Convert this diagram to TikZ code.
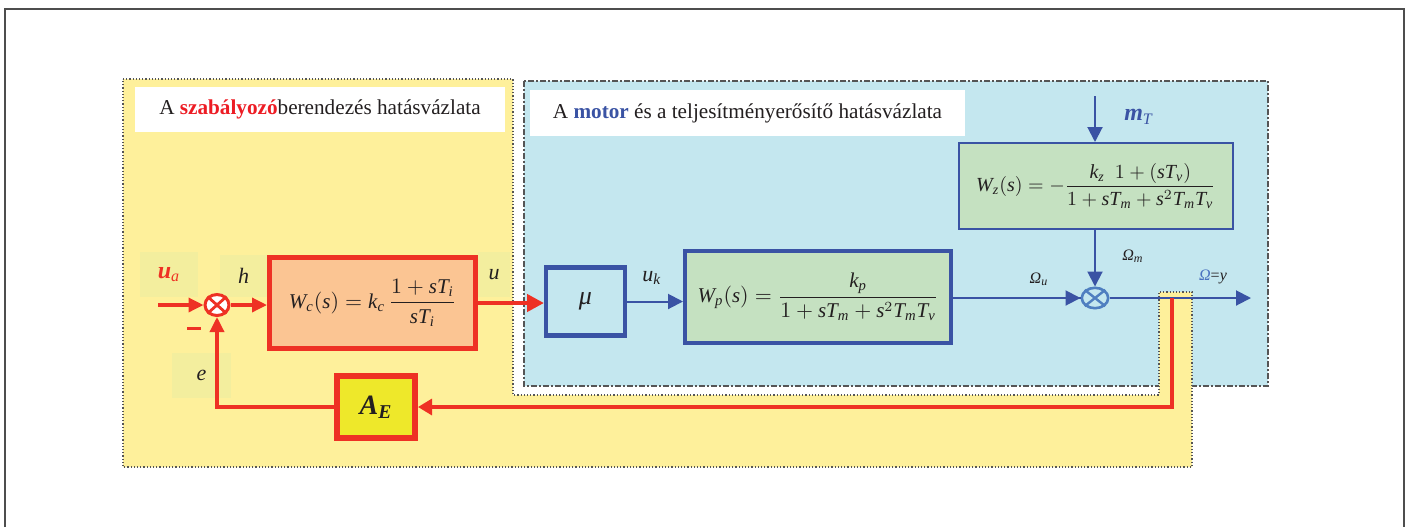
\documentclass[tikz,border=0pt]{standalone}
\usepackage{fontspec}
\setmainfont{Liberation Serif}
\usepackage{amsmath}
\usetikzlibrary{arrows.meta,shapes.geometric}
\definecolor{ylbg}{HTML}{FEF09B}
\definecolor{lblbg}{HTML}{F3EE9E}
\definecolor{blbg}{HTML}{C4E7EF}
\definecolor{myblue}{HTML}{3A53A4}
\definecolor{sumblue}{HTML}{4F7FC0}
\definecolor{omblue}{HTML}{4A72C0}
\definecolor{myred}{HTML}{EE3124}
\definecolor{titlered}{HTML}{ED1C24}
\definecolor{peach}{HTML}{FBC593}
\definecolor{mgreen}{HTML}{C5E1C1}
\definecolor{aeyellow}{HTML}{EEE82A}
\definecolor{txt}{HTML}{231F20}
\definecolor{framecol}{HTML}{4D4D4D}
\definecolor{bordercol}{HTML}{555555}
\newcommand\mi[1]{\text{\itshape #1}}
\tikzset{
  lblbox/.style={fill=lblbg, inner sep=0pt},
  titlebox/.style={fill=white, inner sep=0pt, font=\fontsize{10.6}{12}\selectfont},
  rl/.style={draw=myred, line width=1.7pt, -{Triangle[length=7.5pt,width=7pt]}},
  bl/.style={draw=myblue, line width=1pt, -{Triangle[length=7.5pt,width=7.5pt]}},
  fbox/.style={inner sep=0pt, font=\fontsize{10.5}{12}\selectfont},
}
\begin{document}
\begin{tikzpicture}[x=0.5pt,y=-0.5pt,font=\fontsize{10}{12}\selectfont,text=txt]
\useasboundingbox (0,0) rectangle (1409,527);
% frame
\draw[framecol, line width=1pt] (5,527) -- (5,9) -- (1404,9) -- (1404,527);
% regions
\fill[blbg] (524,81) rectangle (1268,386);
\draw[bordercol, line width=0.6pt, dash pattern=on 3pt off 1.2pt on 0.6pt off 1.2pt] (524,81) rectangle (1268,386);
\draw[bordercol, line width=0.6pt, densely dotted, fill=ylbg] (123,79) -- (513,79) -- (513,395) -- (1159,395) -- (1159,292) -- (1192,292) -- (1192,467) -- (123,467) -- cycle;
% titles
\node[titlebox, minimum width=185pt, minimum height=22.5pt] (t1) at (320,109.5)
  {A \textcolor{titlered}{\textbf{szabályozó}}berendezés hatásvázlata};
\node[titlebox, minimum width=217.5pt, minimum height=23pt] (t2) at (747.5,113)
  {A \textcolor{myblue}{\textbf{motor}} és a teljesítményerősítő hatásvázlata};
% label boxes
\node[lblbox, minimum width=29pt, minimum height=22.5pt, font=\fontsize{12}{14}\selectfont] (ua) at (169,274.5)
  {\textcolor{myred}{\textbf{\textit{u}}\textsubscript{\textit{a}}}};
\node[lblbox, minimum width=23.5pt, minimum height=21pt, font=\fontsize{11}{13}\selectfont] (hl) at (243.5,276) {\textit{h}};
\node[lblbox, minimum width=16pt, minimum height=22.5pt, font=\fontsize{11}{13}\selectfont] (ul) at (494,274.5) {\textit{u}};
\node[lblbox, minimum width=29.5pt, minimum height=22.5pt, font=\fontsize{11}{13}\selectfont] (el) at (201.5,375.5) {\textit{e}};
% blocks
\node[fbox, draw=myred, line width=2.5pt, fill=peach, minimum width=103pt, minimum height=45.5pt] (Wc) at (372.5,303)
  {$\mi{W}_{\mi{c}}(\mi{s})=\mi{k}_{\mi{c}}\,\dfrac{1+\mi{s}\mi{T}_{\mi{i}}}{\mi{s}\mi{T}_{\mi{i}}}$};
\node[inner sep=0pt, draw=myred, line width=3pt, fill=aeyellow, minimum width=39pt, minimum height=31pt, font=\fontsize{14}{16}\selectfont] (AE) at (376,407)
  {\textbf{\textit{A}}\textsubscript{\textbf{\textit{E}}}};
\node[inner sep=0pt, draw=myblue, line width=2.2pt, fill=blbg, minimum width=39.3pt, minimum height=34pt, font=\fontsize{13}{15}\selectfont] (mu) at (585.5,301.5) {\textit{μ}};
\node[fbox, draw=myblue, line width=2pt, fill=mgreen, minimum width=133pt, minimum height=46pt] (Wp) at (818,297)
  {$\mi{W}_{\mi{p}}(\mi{s})=\dfrac{\mi{k}_{\mi{p}}}{1+\mi{s}\mi{T}_{\mi{m}}+\mi{s}^2\mi{T}_{\mi{m}}\mi{T}_{\mi{v}}}$};
\node[fbox, draw=myblue, line width=1pt, fill=mgreen, minimum width=137pt, minimum height=43pt, font=\fontsize{10}{12}\selectfont] (Wz) at (1096,186)
  {$\mi{W}_{\mi{z}}(\mi{s})=-\dfrac{\mi{k}_{\mi{z}}\ \ 1+(\mi{s}\mi{T}_{\mi{v}})}{1+\mi{s}\mi{T}_{\mi{m}}+\mi{s}^2\mi{T}_{\mi{m}}\mi{T}_{\mi{v}}}$};
% summing junctions
\node[ellipse, draw=myred, line width=1.5pt, fill=white, minimum width=12pt, minimum height=10.5pt, inner sep=0pt] (s1) at (217,305) {};
\draw[myred, line width=1.4pt] (s1.north east) -- (s1.south west) (s1.north west) -- (s1.south east);
\node[ellipse, draw=sumblue, line width=1.3pt, fill=blbg, minimum width=13.2pt, minimum height=10.2pt, inner sep=0pt] (s2) at (1095,298) {};
\draw[sumblue, line width=1.2pt] (s2.north east) -- (s2.south west) (s2.north west) -- (s2.south east);
% other labels
\node[text=myred, inner sep=0pt] (minus) at (194,328) {\rule{7pt}{1.5pt}};
\node[font=\fontsize{11}{13}\selectfont, inner sep=0pt] (ukl) at (652,278) {\textit{u}\textsubscript{\textit{k}}};
\node[font=\fontsize{12}{14}\selectfont, text=myblue, inner sep=0pt] (mTl) at (1139,117) {\textbf{\textit{m}}\textsubscript{\textit{T}}};
\node[font=\fontsize{8}{10}\selectfont, inner sep=0pt] (Oml) at (1133,256) {\textit{Ω}\textsubscript{\textit{m}}};
\node[font=\fontsize{8}{10}\selectfont, inner sep=0pt] (Oul) at (1039,279) {\textit{Ω}\textsubscript{\textit{u}}};
\node[font=\fontsize{8}{10}\selectfont, inner sep=0pt] (Oyl) at (1213,277) {\textcolor{omblue}{\textit{Ω}}=\textit{y}};
% connectors
\coordinate (in) at (158,305);
\coordinate (mt) at (1095,96);
\coordinate (out) at (1251,298);
\coordinate (tap) at (1172,298);
\draw[rl] (in) -- (s1.west);
\draw[rl] (s1.east) -- (s1.east -| Wc.west);
\draw[rl, line width=2.2pt, -{Triangle[length=8.5pt,width=8.5pt]}] (Wc.east) -- (Wc.east -| mu.west);
\draw[bl] (mu.east) -- (mu.east -| Wp.west);
\draw[bl, -] (Wp.east |- s2.west) -- (s2.west);
\draw[bl] ([xshift=-20pt]s2.west) -- (s2.west);
\draw[bl] (mt) -- (mt |- Wz.north);
\draw[bl] (Wz.south -| s2.north) -- (s2.north);
\draw[bl] (s2.east) -- (out);
\draw[rl, line width=1.6pt, -{Triangle[length=7pt,width=8pt]}] (tap) |- (AE.east);
\draw[rl] (AE.west) -| (s1.south);
\end{tikzpicture}
\end{document}
